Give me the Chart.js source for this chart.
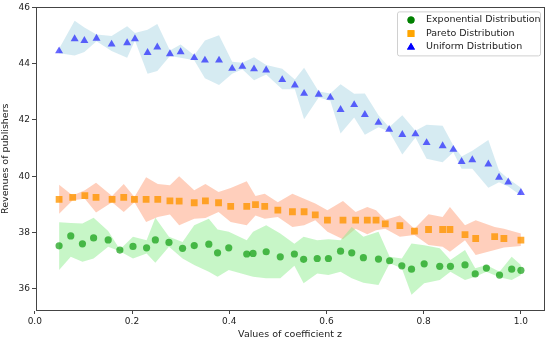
<!DOCTYPE html>
<html>
<head>
<meta charset="utf-8">
<script src="https://cdn.jsdelivr.net/npm/chart.js@4.4.1/dist/chart.umd.min.js"></script>
<style>
  html, body { margin: 0; padding: 0; background: #fff; }
  #wrap { width: 550px; height: 340px; position: relative; }
</style>
</head>
<body>
<div id="wrap"><canvas id="chart"></canvas></div>
<script>
'use strict';

// ---- data ----
const xTicks = [0, 0.2, 0.4, 0.6, 0.8, 1.0];
const yTicks = [36, 38, 40, 42, 44, 46];

const expX = [0.05, 0.074, 0.098, 0.121, 0.151, 0.175, 0.202, 0.230, 0.248, 0.276, 0.304, 0.328, 0.358, 0.376, 0.399, 0.436, 0.449, 0.476, 0.505, 0.534, 0.553, 0.581, 0.604, 0.629, 0.652, 0.676, 0.707, 0.730, 0.755, 0.775, 0.801, 0.833, 0.855, 0.885, 0.906, 0.929, 0.956, 0.981, 1.0];
const expY = [37.53, 37.88, 37.60, 37.81, 37.74, 37.38, 37.51, 37.46, 37.74, 37.65, 37.44, 37.54, 37.59, 37.28, 37.46, 37.24, 37.26, 37.32, 37.14, 37.24, 37.05, 37.08, 37.08, 37.34, 37.28, 37.11, 37.06, 37.00, 36.82, 36.70, 36.89, 36.80, 36.80, 36.85, 36.53, 36.74, 36.49, 36.70, 36.66];
const expUpper = [38.37, 38.34, 38.32, 38.53, 38.06, 37.40, 37.85, 37.73, 38.53, 37.85, 37.67, 38.26, 38.49, 38.11, 38.03, 37.73, 38.03, 38.26, 37.97, 37.60, 37.85, 37.73, 37.76, 37.73, 38.20, 37.85, 38.03, 37.14, 37.08, 37.61, 37.55, 37.44, 37.03, 37.38, 36.73, 36.85, 36.61, 37.14, 36.85];
const expLower = [36.67, 37.14, 36.96, 37.08, 37.50, 37.34, 37.08, 37.26, 36.93, 37.50, 37.08, 36.85, 36.61, 36.43, 36.67, 36.49, 36.43, 36.38, 36.38, 36.82, 36.20, 36.55, 36.49, 36.61, 36.38, 36.22, 36.14, 36.91, 36.73, 35.79, 36.20, 36.32, 36.61, 36.32, 36.43, 36.61, 36.41, 36.32, 36.49];

const parX = [0.05, 0.078, 0.103, 0.126, 0.159, 0.183, 0.205, 0.229, 0.253, 0.278, 0.297, 0.328, 0.351, 0.378, 0.403, 0.436, 0.454, 0.473, 0.500, 0.530, 0.554, 0.577, 0.602, 0.634, 0.660, 0.684, 0.702, 0.721, 0.751, 0.781, 0.810, 0.839, 0.854, 0.885, 0.907, 0.946, 0.965, 1.0];
const parY = [39.18, 39.25, 39.31, 39.25, 39.18, 39.25, 39.18, 39.18, 39.18, 39.13, 39.12, 39.06, 39.13, 39.06, 38.93, 38.93, 38.99, 38.93, 38.80, 38.74, 38.74, 38.63, 38.44, 38.44, 38.44, 38.44, 38.44, 38.31, 38.25, 38.05, 38.11, 38.11, 38.11, 37.93, 37.79, 37.86, 37.79, 37.73];
const parUpper = [39.70, 39.32, 39.50, 39.77, 39.30, 39.73, 39.26, 39.97, 39.73, 39.68, 40.00, 39.50, 39.73, 39.44, 39.58, 39.82, 39.30, 39.38, 39.08, 39.38, 39.20, 39.03, 38.79, 39.12, 38.73, 38.91, 38.79, 38.46, 38.61, 38.14, 38.65, 38.55, 38.91, 38.26, 38.44, 38.20, 38.14, 37.97];
const parLower = [38.67, 39.15, 39.20, 38.71, 39.08, 38.73, 39.08, 38.38, 38.55, 38.64, 38.26, 38.49, 38.52, 38.73, 38.38, 38.26, 38.61, 38.49, 38.55, 38.20, 38.26, 38.44, 38.03, 37.76, 38.14, 37.94, 38.08, 38.14, 37.85, 37.91, 37.56, 37.50, 37.32, 37.73, 37.20, 37.38, 37.47, 37.52];

const uniX = [0.05, 0.082, 0.102, 0.127, 0.158, 0.190, 0.206, 0.232, 0.252, 0.278, 0.300, 0.328, 0.350, 0.379, 0.406, 0.427, 0.451, 0.476, 0.509, 0.535, 0.554, 0.584, 0.608, 0.629, 0.657, 0.679, 0.707, 0.729, 0.756, 0.783, 0.806, 0.839, 0.861, 0.878, 0.900, 0.933, 0.955, 0.974, 1.0];
const uniY = [44.45, 44.88, 44.82, 44.90, 44.69, 44.74, 44.88, 44.39, 44.59, 44.35, 44.42, 44.21, 44.12, 44.12, 43.83, 43.90, 43.81, 43.77, 43.43, 43.24, 42.94, 42.91, 42.80, 42.37, 42.54, 42.19, 41.91, 41.66, 41.48, 41.50, 41.19, 41.08, 40.95, 40.52, 40.58, 40.43, 39.96, 39.79, 39.42];
const uniUpper = [44.53, 45.53, 45.29, 45.04, 44.98, 45.33, 45.09, 45.21, 45.41, 44.47, 44.68, 44.30, 44.82, 45.01, 44.07, 44.03, 44.23, 43.95, 43.82, 43.44, 43.86, 43.01, 42.94, 43.27, 42.93, 42.94, 42.17, 41.74, 42.17, 41.62, 41.83, 41.80, 41.09, 40.70, 40.91, 41.29, 40.20, 39.91, 39.59];
const uniLower = [44.37, 44.29, 44.42, 44.80, 44.45, 44.21, 44.82, 43.64, 43.74, 44.27, 44.21, 44.12, 43.48, 43.24, 43.64, 43.80, 43.41, 43.62, 43.09, 43.09, 42.03, 42.80, 42.68, 41.52, 42.09, 41.48, 41.74, 41.59, 40.77, 41.38, 40.62, 40.50, 40.85, 40.27, 40.27, 39.59, 39.79, 39.64, 39.32];

const seriesNames = ['Exponential Distribution', 'Pareto Distribution', 'Uniform Distribution'];

// ---- helpers ----
const FONT = 'DejaVu Sans';
const pts = (xs, ys) => xs.map((x, i) => ({ x, y: ys[i] }));

const markerSet = (label, xs, ys, style, radius, color) => ({
  label, data: pts(xs, ys), pointStyle: style, pointRadius: radius, pointHoverRadius: radius,
  backgroundColor: color, borderColor: color, borderWidth: 0, showLine: false
});
const bandSet = (xs, ys, color, fill) => ({
  label: '', data: pts(xs, ys), showLine: true, pointRadius: 0, borderWidth: 0,
  borderColor: 'rgba(0,0,0,0)', backgroundColor: color, fill, tension: 0
});

// frame around the plot (matplotlib style spines)
const framePlugin = {
  id: 'frame',
  afterDraw(c) {
    const a = c.chartArea, ctx = c.ctx;
    ctx.save();
    ctx.strokeStyle = '#444';
    ctx.lineWidth = 1;
    ctx.strokeRect(Math.round(a.left) + 0.5, Math.round(a.top) + 0.5, Math.round(a.right - a.left), Math.round(a.bottom - a.top));
    ctx.restore();
  }
};

// legend drawn inside the plot, upper right
const legendPlugin = {
  id: 'innerLegend',
  afterDraw(c) {
    const ctx = c.ctx, a = c.chartArea;
    const bx = a.right - 147, by = a.top + 4, bw = 143, bh = 44;
    ctx.save();
    ctx.fillStyle = 'rgba(255,255,255,0.8)';
    ctx.strokeStyle = '#d0d0d0';
    ctx.lineWidth = 1;
    ctx.beginPath();
    ctx.roundRect(bx + 0.5, by + 0.5, bw, bh, 2);
    ctx.fill(); ctx.stroke();
    const styles = ['circle', 'rect', 'triangle'];
    const cols = ['#008000', '#ffa500', '#0000ff'];
    const radii = [3.5, 4.8, 4.6];
    ctx.font = '9.5px "' + FONT + '"';
    ctx.textBaseline = 'middle';
    seriesNames.forEach((n, i) => {
      const yy = by + 8 + i * 13.7;
      ctx.fillStyle = cols[i];
      Chart.helpers.drawPoint(ctx, { pointStyle: styles[i], radius: radii[i], borderWidth: 0 }, bx + 14, yy + 0.5);
      ctx.fill();
      ctx.fillStyle = '#222';
      ctx.fillText(n, bx + 29, yy);
    });
    ctx.restore();
  }
};

const datasets = [
  markerSet(seriesNames[0], expX, expY, 'circle', 3.6, 'rgba(0,150,0,0.65)'),
  markerSet(seriesNames[1], parX, parY, 'rect', 4.8, 'rgba(255,150,0,0.8)'),
  markerSet(seriesNames[2], uniX, uniY, 'triangle', 4.6, 'rgba(0,0,255,0.6)'),
  bandSet(expX, expUpper, 'rgba(144,238,144,0.5)', '+1'),
  bandSet(expX, expLower, 'rgba(144,238,144,0.5)', false),
  bandSet(parX, parUpper, 'rgba(255,160,122,0.5)', '+1'),
  bandSet(parX, parLower, 'rgba(255,160,122,0.5)', false),
  bandSet(uniX, uniUpper, 'rgba(173,216,230,0.5)', '+1'),
  bandSet(uniX, uniLower, 'rgba(173,216,230,0.5)', false)
];

new Chart(document.getElementById('chart').getContext('2d'), {
  type: 'scatter',
  data: { datasets },
  options: {
    responsive: true,
    maintainAspectRatio: false,
    animation: false,
    layout: { padding: { top: 6, right: 6, left: 0, bottom: 0 } },
    plugins: { legend: { display: false }, tooltip: { enabled: false } },
    scales: {
      x: {
        type: 'linear', min: 0.0025, max: 1.0475,
        afterBuildTicks: (s) => { s.ticks = xTicks.map(v => ({ value: v })); },
        afterFit: (s) => { s.height = 30; },
        grid: { display: true, drawOnChartArea: false, drawTicks: true, tickLength: 4, color: '#444' },
        border: { display: true, color: '#444' },
        ticks: { color: '#222', font: { family: FONT, size: 9 }, padding: 2, maxRotation: 0,
                 callback: (v) => Number(v).toFixed(1) },
        title: { display: true, text: 'Values of coefficient z', color: '#222',
                 font: { family: FONT, size: 9.5 }, padding: { top: 0, bottom: 0 } }
      },
      y: {
        type: 'linear', min: 35.25, max: 46,
        afterBuildTicks: (s) => { s.ticks = yTicks.map(v => ({ value: v })); },
        afterFit: (s) => { s.width = 36; },
        grid: { display: true, drawOnChartArea: false, drawTicks: true, tickLength: 4, color: '#444' },
        border: { display: true, color: '#444' },
        ticks: { color: '#222', font: { family: FONT, size: 9 }, padding: 2 },
        title: { display: true, text: 'Revenues of publishers', color: '#222',
                 font: { family: FONT, size: 9.5 }, padding: { top: 0, bottom: 2 } }
      }
    }
  },
  plugins: [framePlugin, legendPlugin]
});
</script>
</body>
</html>
